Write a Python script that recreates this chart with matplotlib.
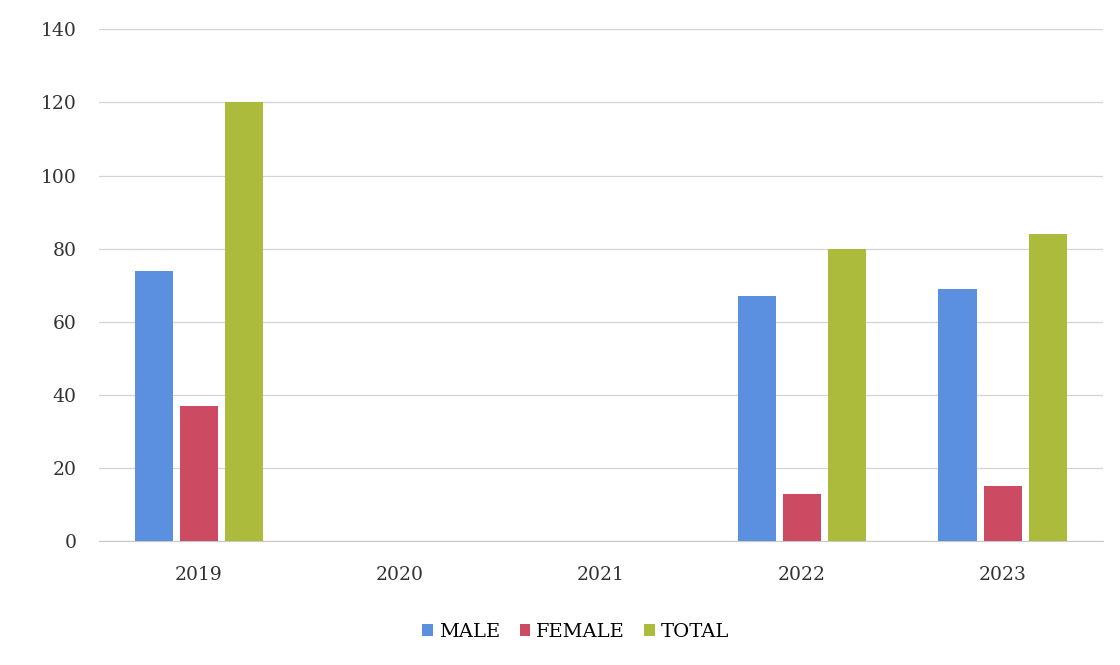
import numpy as np
import matplotlib
matplotlib.use("Agg")
import matplotlib.pyplot as plt

# Data
years = ["2019", "2020", "2021", "2022", "2023"]
male = [74, 0, 0, 67, 69]
female = [37, 0, 0, 13, 15]
total = [120, 0, 0, 80, 84]

series = [("MALE", male, "#5b8fe0"),
          ("FEMALE", female, "#cc4a62"),
          ("TOTAL", total, "#adbb3c")]

plt.rcParams["font.family"] = ["DejaVu Serif"]

fig = plt.figure(figsize=(11.2, 6.65), dpi=100)
ax = fig.add_axes([0.088, 0.186, 0.897, 0.77])

x = np.arange(len(years))
width = 0.19
step = 0.225
for i, (name, vals, color) in enumerate(series):
    ax.bar(x + (i - 1) * step, vals, width, color=color, label=name, zorder=3)

ax.set_xlim(-0.5, len(years) - 0.5)
ax.set_ylim(0, 140)
ax.set_yticks(range(0, 141, 20))
ax.set_xticks(x)
ax.set_xticklabels(years)
ax.tick_params(axis="both", length=0, labelsize=13.5, colors="#333333")
ax.tick_params(axis="x", pad=18)
ax.tick_params(axis="y", pad=16)

ax.grid(axis="y", color="#d4d4d4", linewidth=0.9, zorder=0)
for s in ["top", "right", "left"]:
    ax.spines[s].set_visible(False)
ax.spines["bottom"].set_color("#c8c8c8")

ax.legend(loc="upper center", bbox_to_anchor=(0.475, -0.125), ncol=3,
          frameon=False, fontsize=14, handlelength=0.55, handleheight=0.55,
          handletextpad=0.3, columnspacing=1.0)

fig.savefig("out.png", dpi=100)
